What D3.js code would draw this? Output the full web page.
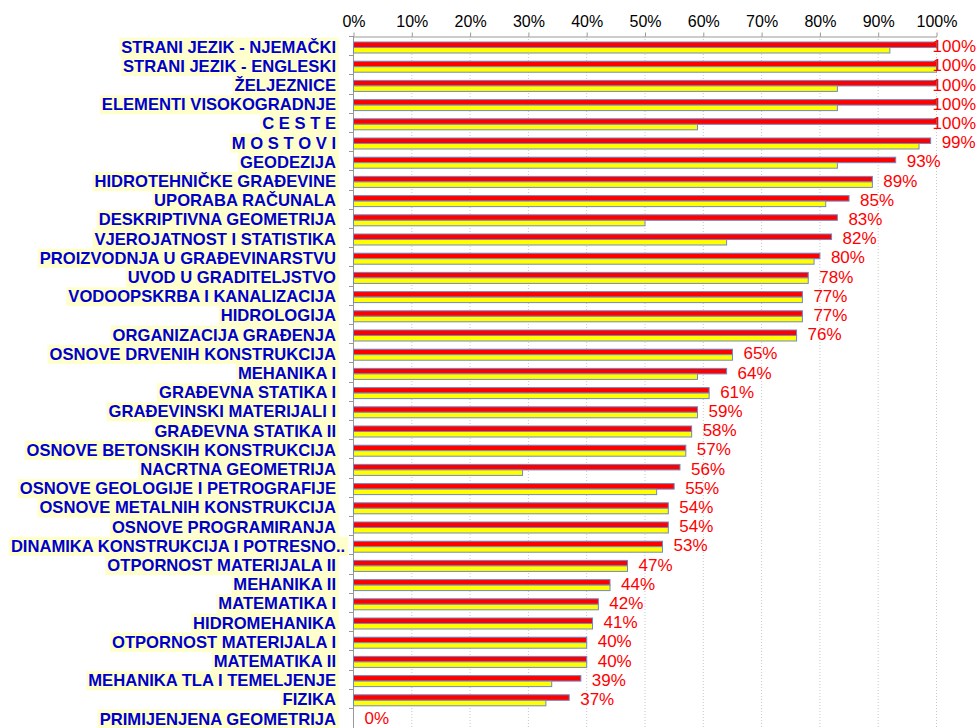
<!DOCTYPE html>
<meta charset="utf-8">
<body style="margin:0;background:#fff">
<div id="chart"></div>
</body>
<script src="https://d3js.org/d3.v7.min.js"></script>
<style>
    body { font-family: "Liberation Sans", Arial, sans-serif; }
    .grid line { stroke: #c8c8c8; stroke-dasharray: 1,2; }
    .xaxis path, .xaxis line { stroke: #999; }
    .xaxis text { font-size: 16px; fill: #000; }
    .cat { font-size: 16.6px; font-weight: bold; fill: #0000cc; }
    .val { font-size: 17px; fill: #ff0000; }
</style>
<script>
    var width = 977,
        height = 728;

    // predmeti
    var categories = [
        "STRANI JEZIK  - NJEMAČKI", "STRANI JEZIK  - ENGLESKI", "ŽELJEZNICE", "ELEMENTI VISOKOGRADNJE",
        "C E S T E", "M O S T O V I", "GEODEZIJA", "HIDROTEHNIČKE GRAĐEVINE", "UPORABA RAČUNALA",
        "DESKRIPTIVNA GEOMETRIJA", "VJEROJATNOST I STATISTIKA", "PROIZVODNJA U GRAĐEVINARSTVU",
        "UVOD U GRADITELJSTVO", "VODOOPSKRBA I KANALIZACIJA", "HIDROLOGIJA", "ORGANIZACIJA GRAĐENJA",
        "OSNOVE DRVENIH KONSTRUKCIJA", "MEHANIKA I", "GRAĐEVNA STATIKA I", "GRAĐEVINSKI MATERIJALI I",
        "GRAĐEVNA STATIKA II", "OSNOVE BETONSKIH KONSTRUKCIJA", "NACRTNA GEOMETRIJA",
        "OSNOVE GEOLOGIJE I PETROGRAFIJE", "OSNOVE METALNIH KONSTRUKCIJA", "OSNOVE PROGRAMIRANJA",
        "DINAMIKA KONSTRUKCIJA I POTRESNO..", "OTPORNOST MATERIJALA II", "MEHANIKA II", "MATEMATIKA I",
        "HIDROMEHANIKA", "OTPORNOST MATERIJALA I", "MATEMATIKA II", "MEHANIKA TLA I TEMELJENJE",
        "FIZIKA", "PRIMIJENJENA GEOMETRIJA"
    ];

    // crveni stupci (s oznakama)
    var redValues = [100, 100, 100, 100, 100, 99, 93, 89, 85, 83, 82, 80, 78, 77, 77, 76,
                     65, 64, 61, 59, 58, 57, 56, 55, 54, 54, 53, 47, 44, 42, 41, 40, 40, 39, 37, 0];

    // žuti stupci
    var yellowValues = [92, 100, 83, 83, 59, 97, 83, 89, 81, 50, 64, 79, 78, 77, 77, 76,
                        65, 59, 61, 59, 58, 57, 29, 52, 54, 54, 53, 47, 44, 42, 41, 40, 40, 34, 33, 0];

    var xTicks = [0, 10, 20, 30, 40, 50, 60, 70, 80, 90, 100];

    var svg = d3.select("#chart")
        .append("svg")
            .attr("width", width)
            .attr("height", height);

    var x = d3.scaleLinear().domain([0, 100]).range([353, 936]);
    var y = d3.scaleBand().domain(categories).range([36, 727.2]);
    var bh = y.bandwidth();

    // vertikalne linije mreže
    svg.append("g")
        .attr("class", "grid")
        .selectAll("line")
        .data(xTicks.slice(1))
        .enter().append("line")
            .attr("x1", d => x(d) + 0.5)
            .attr("x2", d => x(d) + 0.5)
            .attr("y1", 36)
            .attr("y2", height);

    // gornja os
    svg.append("g")
        .attr("class", "xaxis")
        .attr("transform", "translate(0.5,36.5)")
        .call(d3.axisTop(x).tickValues(xTicks).tickSize(4).tickPadding(6)
            .tickFormat(d => d + "%").tickSizeOuter(0))
        .call(g => g.attr("font-family", null).attr("font-size", null));

    // lijeva os
    svg.append("line")
        .attr("x1", x(0) + 0.5).attr("x2", x(0) + 0.5)
        .attr("y1", 36).attr("y2", height)
        .attr("stroke", "#999");

    svg.append("g")
        .selectAll("line")
        .data(categories)
        .enter().append("line")
            .attr("x1", x(0) - 4)
            .attr("x2", x(0))
            .attr("y1", d => Math.round(y(d)) + 0.5)
            .attr("y2", d => Math.round(y(d)) + 0.5)
            .attr("stroke", "#999");

    // stupci
    var rows = svg.append("g")
        .selectAll("g")
        .data(categories)
        .enter().append("g");

    rows.append("rect")
        .attr("x", x(0) + 0.5)
        .attr("y", d => y(d) + 6)
        .attr("width", (d, i) => x(redValues[i]) - x(0))
        .attr("height", 5.5)
        .attr("fill", "#ff0000")
        .attr("stroke", "#7088c4")
        .attr("stroke-width", 1)
        .style("display", (d, i) => redValues[i] > 0 ? null : "none");

    rows.append("rect")
        .attr("x", x(0) + 0.5)
        .attr("y", d => y(d) + 11.5)
        .attr("width", (d, i) => x(yellowValues[i]) - x(0))
        .attr("height", 5.5)
        .attr("fill", "#ffff00")
        .attr("stroke", "#7088c4")
        .attr("stroke-width", 1)
        .style("display", (d, i) => yellowValues[i] > 0 ? null : "none");

    // nazivi predmeta s pozadinom
    var labels = svg.append("g")
        .selectAll("g")
        .data(categories)
        .enter().append("g");

    labels.append("rect")
        .attr("fill", "#ffffcc");

    labels.append("text")
        .attr("class", "cat")
        .attr("text-anchor", "end")
        .attr("y", d => y(d) + bh / 2 + 7)
        .text(d => d)
        .each(function(d) {
            var extra = 0;
            if (d.slice(-2) == "..") {
                var tmp = svg.append("text").attr("class", "cat").text("..");
                extra = tmp.node().getComputedTextLength();
                tmp.remove();
            }
            d3.select(this).attr("x", 336 + extra);
            var w = this.getComputedTextLength();
            d3.select(this.parentNode).select("rect")
                .attr("x", 336 + extra - w - 2)
                .attr("width", w + 5)
                .attr("y", y(d) + 1.5)
                .attr("height", bh);
        });

    // vrijednosti
    svg.append("g")
        .selectAll("text")
        .data(categories)
        .enter().append("text")
            .attr("class", "val")
            .attr("y", d => y(d) + bh / 2 + 6.5)
            .text((d, i) => redValues[i] + "%")
            .each(function(d, i) {
                var w = this.getComputedTextLength();
                var px = Math.min(x(redValues[i]) + 11.5, 976 - w);
                d3.select(this).attr("x", px);
            });
</script>
